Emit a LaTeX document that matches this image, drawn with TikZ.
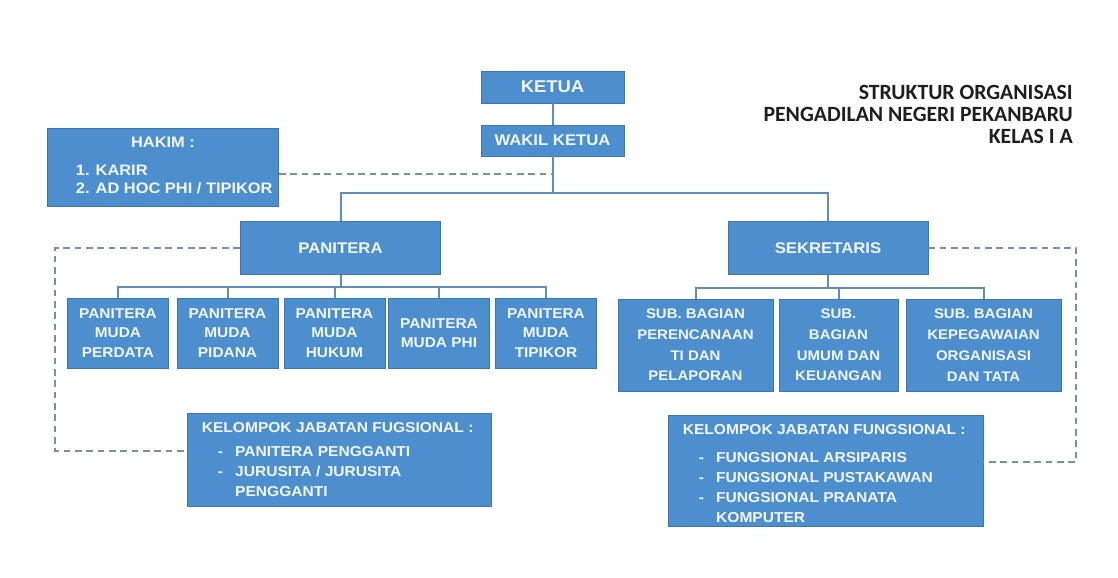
\documentclass[tikz,border=0pt]{standalone}
\usepackage{fontspec}
\setmainfont{Liberation Sans}[FakeStretch=1.08]
\newfontfamily\titlefont{Carlito}
\usetikzlibrary{positioning}

\definecolor{boxblue}{RGB}{77,143,206}
\definecolor{boxedge}{RGB}{62,118,176}
\definecolor{connblue}{RGB}{96,140,186}
\definecolor{dashgray}{RGB}{128,142,156}
\definecolor{boxtext}{RGB}{242,246,250}
\definecolor{titlegray}{RGB}{30,30,30}

\newcommand{\dashitem}{\hspace*{12pt}\makebox[13pt][l]{-}}

\tikzset{
  orgbox/.style={draw=boxedge, line width=0.6pt, fill=boxblue, text=boxtext, align=center, inner sep=0pt},
  ketuabox/.style={orgbox, font=\fontsize{12.8pt}{15pt}\selectfont\bfseries, minimum width=107.25pt, minimum height=24pt},
  headbox/.style={orgbox, font=\fontsize{11.6pt}{14pt}\selectfont\bfseries, minimum width=150pt, minimum height=39.5pt},
  mudabox/.style={orgbox, font=\fontsize{10.7pt}{14.6pt}\selectfont\bfseries, minimum width=75.75pt, minimum height=52.5pt},
  subbox/.style={orgbox, font=\fontsize{10.4pt}{15.6pt}\selectfont\bfseries, minimum height=69pt},
  listtext/.style={inner sep=0pt, align=left, text=boxtext, font=\fontsize{10.8pt}{15pt}\selectfont\bfseries},
  hakimtext/.style={listtext, font=\fontsize{11.4pt}{13.5pt}\selectfont\bfseries},
  titletext/.style={inner sep=0pt, align=right, text=titlegray, font=\titlefont\fontsize{16.3pt}{16.5pt}\selectfont\bfseries},
  conn/.style={draw=connblue, line width=1.5pt},
  dashline/.style={draw=dashgray, line width=1.4pt, dash pattern=on 5pt off 3.5pt}
}

\begin{document}
\begin{tikzpicture}[x=0.75pt,y=-0.75pt]
\fill[white] (0,0) rectangle (1118,578);
\useasboundingbox (0,0) rectangle (1118,578);

%title
\node[titletext, anchor=north east] (title) at (1073,85) {STRUKTUR ORGANISASI\\PENGADILAN NEGERI PEKANBARU\\KELAS I A};

%pimpinan
\node[ketuabox] (ketua) at (552.5,87) {KETUA};
\node[headbox, minimum width=107.25pt, minimum height=23.25pt] (wakil) at (552.5,140.5) {WAKIL KETUA};

%hakim
\node[orgbox, minimum width=173.25pt, minimum height=58.5pt] (hakim) at (163,167) {};
\node[hakimtext, below=6.75pt of hakim.north] (hakimhead) {HAKIM :};
\node[hakimtext, below right=27.75pt and 21.4pt of hakim.north west] (hakimlist) {1. KARIR\\2. AD HOC PHI / TIPIKOR};

%panitera & sekretaris
\node[headbox] (panitera) at (340.5,248) {PANITERA};
\node[headbox] (sekretaris) at (828,248) {SEKRETARIS};

%panitera muda
\node[mudabox] (perdata) at (118,333) {PANITERA\\MUDA\\PERDATA};
\node[mudabox] (pidana) at (227.5,333) {PANITERA\\MUDA\\PIDANA};
\node[mudabox] (hukum) at (334.5,333) {PANITERA\\MUDA\\HUKUM};
\node[mudabox] (phi) at (439,333) {PANITERA\\MUDA PHI};
\node[mudabox] (tipikor) at (546,333) {PANITERA\\MUDA\\TIPIKOR};

%sub bagian
\node[subbox, minimum width=116.25pt] (perencanaan) at (695.5,345) {SUB. BAGIAN\\PERENCANAAN\\TI DAN\\PELAPORAN};
\node[subbox, minimum width=89.25pt] (umum) at (838.5,345) {SUB.\\BAGIAN\\UMUM DAN\\KEUANGAN};
\node[subbox, minimum width=116.25pt] (kepegawaian) at (983.5,345) {SUB. BAGIAN\\KEPEGAWAIAN\\ORGANISASI\\DAN TATA};

%kelompok jabatan fungsional
\node[orgbox, minimum width=228pt, minimum height=69.75pt] (kjfpan) at (339,459.5) {};
\node[listtext, below right=7.5pt and 11.25pt of kjfpan.north west] (kjfpantext) {KELOMPOK JABATAN FUGSIONAL :\\[3pt]
\dashitem PANITERA PENGGANTI\\
\dashitem JURUSITA / JURUSITA\\
\hspace*{25pt}PENGGANTI};

\node[orgbox, minimum width=236.25pt, minimum height=83.25pt] (kjfsek) at (825.5,470.5) {};
\node[listtext, below right=7.5pt and 11.25pt of kjfsek.north west] (kjfsektext) {KELOMPOK JABATAN FUNGSIONAL :\\[6pt]
\dashitem FUNGSIONAL ARSIPARIS\\
\dashitem FUNGSIONAL PUSTAKAWAN\\
\dashitem FUNGSIONAL PRANATA\\
\hspace*{25pt}KOMPUTER};

%lines
\coordinate (topbar) at (552.5,193);
\coordinate (panbar) at (340.5,287);
\coordinate (sekbar) at (828,288);
\draw[conn] (ketua) -- (wakil);
\draw[conn] (wakil.south) -- (topbar);
\draw[conn] (panitera.north) |- (topbar) -| (sekretaris.north);
\draw[conn] (panitera.south) -- (panbar);
\foreach \c in {perdata,pidana,hukum,phi,tipikor}
  \draw[conn] (panbar) -| (\c.north);
\draw[conn] (sekretaris.south) -- (sekbar);
\foreach \c in {perencanaan,umum,kepegawaian}
  \draw[conn] (sekbar) -| (\c.north);

%dashed
\coordinate (hakimdash) at (552.5,174);
\coordinate (pancorner) at (55,451);
\coordinate (sekcorner) at (1076,462);
\draw[dashline] (hakimdash -| hakim.east) -- (hakimdash);
\draw[dashline] (panitera.west) -| (pancorner) -- (pancorner -| kjfpan.west);
\draw[dashline] (sekretaris.east) -| (sekcorner) -- (sekcorner -| kjfsek.east);

\end{tikzpicture}
\end{document}
